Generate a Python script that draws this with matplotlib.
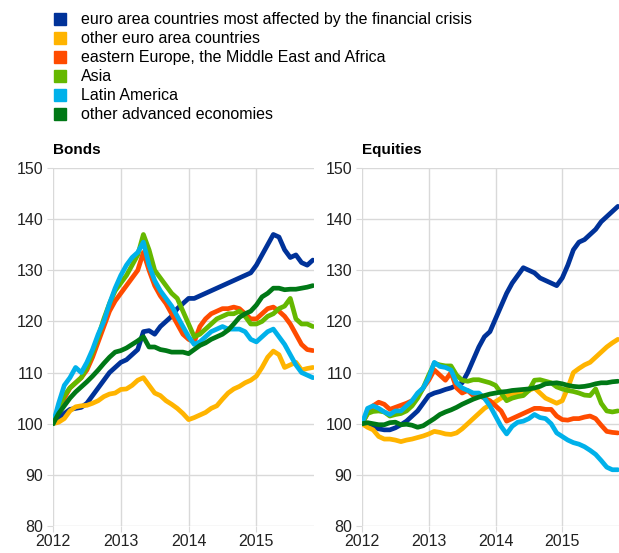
import matplotlib
matplotlib.use("Agg")
import matplotlib.pyplot as plt
from matplotlib.lines import Line2D
import numpy as np

plt.rcParams["font.family"] = ["Liberation Sans", "DejaVu Sans"]

# monthly observations, Jan 2012 .. Nov 2015
months = np.arange(47)
dates = 2012 + months / 12.0

labels = [
    "euro area countries most affected by the financial crisis",
    "other euro area countries",
    "eastern Europe, the Middle East and Africa",
    "Asia",
    "Latin America",
    "other advanced economies",
]
colors = ["#003299", "#ffb400", "#ff4b00", "#65b800", "#00b1ea", "#007816"]

bonds_ea_crisis = [100, 101, 102, 102.8, 103, 103.2, 104, 105.5, 107, 108.5, 110, 111,
                   112, 112.5, 113.5, 114.5, 118, 118.2, 117.5, 119, 120, 121, 122.5, 123.5,
                   124.5, 124.5, 125, 125.5, 126, 126.5, 127, 127.5, 128, 128.5, 129, 129.5,
                   131, 133, 135, 137, 136.5, 134, 132.5, 133, 131.5, 131, 132]
bonds_ea_other = [100, 100.3, 101, 102.5, 103.3, 103.5, 103.6, 104, 104.5, 105.3, 105.8, 106,
                  106.7, 106.8, 107.5, 108.5, 109, 107.5, 106, 105.5, 104.5, 103.8, 103, 102,
                  100.8, 101.2, 101.7, 102.2, 103, 103.5, 104.8, 106, 106.8, 107.3, 108, 108.5,
                  109.3, 111, 113, 114.2, 113.5, 111, 111.5, 112, 110.5, 110.8, 111]
bonds_emea = [100, 102.5, 105, 107, 108, 109, 110.5, 113, 116, 119, 122, 124,
              125.5, 127, 128.5, 130, 133.5, 130, 127, 125, 123.5, 121.5, 119.5, 117.5,
              116.5, 116, 119, 120.5, 121.5, 122, 122.5, 122.5, 122.8, 122.5, 121.5, 120.5,
              120.5, 121.5, 122.5, 122.8, 122, 121, 119.5, 117.5, 115.5, 114.5, 114.3]
bonds_asia = [100, 103, 105.5, 107, 108, 109, 111, 114, 117, 120.5, 123.5, 126,
              127.5, 129, 131, 133, 137, 134, 130, 128.5, 127, 125.5, 124.5, 122,
              119.5, 117, 117.5, 118.5, 119.5, 120.5, 121, 121.5, 121.5, 122, 121, 119.5,
              119.5, 120, 121, 121.5, 122.5, 123, 124.5, 120.5, 119.5, 119.5, 119]
bonds_latam = [100, 104, 107.5, 109, 111, 110, 112, 114.5, 117.5, 120, 123.5, 126.5,
               129, 131, 132.5, 133.5, 135.5, 131, 128, 126, 124.5, 123, 121, 119,
               117, 115.5, 116, 117, 118, 118.5, 119, 118.5, 118.5, 118.5, 118, 116.5,
               116, 117, 118, 118.5, 117, 115.5, 113.5, 111.5, 110, 109.5, 109]
bonds_adv = [100, 102, 103.5, 105, 106.2, 107.2, 108.2, 109.3, 110.5, 111.8, 113, 114,
             114.3, 114.8, 115.5, 116.2, 117, 115, 115, 114.5, 114.3, 114, 114, 114,
             113.7, 114.5, 115.3, 115.8, 116.5, 117, 117.5, 118.3, 119.5, 120.8, 121.5, 122,
             123.2, 124.8, 125.5, 126.5, 126.5, 126.2, 126.3, 126.3, 126.5, 126.7, 127]

eq_ea_crisis = [100, 99.8, 99.4, 99, 98.8, 98.8, 99.2, 99.8, 100.5, 101.5, 102.5, 104,
                105.5, 106, 106.3, 106.7, 107, 107.5, 108, 110, 112.5, 115, 117, 118,
                120.5, 123, 125.5, 127.5, 129, 130.5, 130, 129.5, 128.5, 128, 127.5, 127,
                128.5, 131, 134, 135.5, 136, 137, 138, 139.5, 140.5, 141.5, 142.5]
eq_ea_other = [100, 99.3, 98.8, 97.5, 97, 97, 96.8, 96.5, 96.8, 97, 97.3, 97.6,
               98, 98.5, 98.3, 98, 97.9, 98.2, 99, 100, 101, 102, 103, 103.7,
               104.3, 105, 105.4, 105.7, 106, 106.3, 106.5, 107, 106, 105, 104.5, 104,
               104.5, 107, 110, 110.8, 111.5, 112, 113, 114, 115, 115.8, 116.5]
eq_emea = [100, 102, 103.5, 104.2, 103.8, 102.8, 103.2, 103.6, 104, 104.5, 105.5, 107,
           108.5, 110.5, 109.5, 108.5, 110, 107, 106, 106.5, 105.5, 105.5, 105, 104.5,
           103.5, 102.5, 100.5, 101, 101.5, 102, 102.5, 103, 103, 102.8, 102.8, 101.5,
           100.8, 100.7, 101, 101, 101.3, 101.5, 101, 99.7, 98.5, 98.3, 98.2]
eq_asia = [100, 102, 102.4, 102.5, 102.3, 101.5, 101.8, 102, 102.5, 103.5, 105, 107,
           109.5, 111.8, 111.5, 111.3, 111.3, 109.5, 108.5, 108.3, 108.6, 108.6, 108.3, 108,
           107.5, 106, 104.5, 105, 105.3, 105.5, 106.5, 108.5, 108.6, 108.3, 108, 107.2,
           106.8, 106.5, 106.3, 106, 105.6, 105.5, 106.8, 104, 102.5, 102.3, 102.5]
eq_latam = [100, 103, 103.5, 103, 102.3, 101.8, 102.5, 102.5, 103.5, 104.5, 106, 107,
            109, 112, 111.2, 111, 110.5, 108, 107, 106.5, 106, 106, 105, 103.5,
            101.5, 99.5, 98, 99.5, 100.3, 100.5, 101, 101.8, 101.2, 101, 100, 98.2,
            97.5, 96.8, 96.3, 96, 95.5, 94.8, 94, 92.8, 91.5, 91, 91]
eq_adv = [100, 100.2, 100, 99.8, 99.8, 100.2, 100.3, 99.8, 99.9, 99.7, 99.3, 99.6,
          100.3, 101, 101.8, 102.3, 102.7, 103.2, 103.8, 104.3, 104.8, 105.2, 105.5, 105.8,
          106, 106.2, 106.3, 106.5, 106.6, 106.7, 106.8, 107, 107.3, 107.8, 107.9, 108,
          107.8, 107.5, 107.3, 107.2, 107.3, 107.5, 107.8, 108, 108, 108.2, 108.3]

bonds = [bonds_ea_crisis, bonds_ea_other, bonds_emea, bonds_asia, bonds_latam, bonds_adv]
equities = [eq_ea_crisis, eq_ea_other, eq_emea, eq_asia, eq_latam, eq_adv]

year_ticks = [2012, 2013, 2014, 2015]
value_ticks = [80, 90, 100, 110, 120, 130, 140, 150]

fig = plt.figure(figsize=(6.19, 5.53), dpi=100)
ax1 = fig.add_axes([53 / 619, 1 - 526 / 553, 261 / 619, 358 / 553])
ax2 = fig.add_axes([362 / 619, 1 - 526 / 553, 257 / 619, 358 / 553])

for ax, series, title in [(ax1, bonds, "Bonds"), (ax2, equities, "Equities")]:
    for ys, c in zip(series, colors):
        ax.plot(dates, ys, color=c, lw=3.4, solid_capstyle="round", solid_joinstyle="round")
    ax.set_xlim(2012, 2015.85)
    ax.set_ylim(80, 150)
    ax.set_xticks(year_ticks)
    ax.set_yticks(value_ticks)
    ax.grid(True, color="#d9d9d9", lw=1)
    ax.set_axisbelow(True)
    for s in ax.spines.values():
        s.set_visible(False)
    ax.tick_params(axis="both", length=4, color="#d9d9d9", labelsize=11.5, labelcolor="#222222")
    ax.tick_params(axis="y", pad=3)
    ax.tick_params(axis="x", pad=2)
    ax.set_title(title, loc="left", fontsize=11, fontweight="bold", pad=10)

handles = [Line2D([], [], ls="none", marker="s", markersize=9, color=c) for c in colors]
fig.legend(handles, labels, loc="upper left", bbox_to_anchor=(0.064, 0.998), frameon=False,
           fontsize=11.5, labelspacing=0.25, handletextpad=0.7, handlelength=1.2,
           borderaxespad=0.3)

fig.savefig("out.png", dpi=100)
